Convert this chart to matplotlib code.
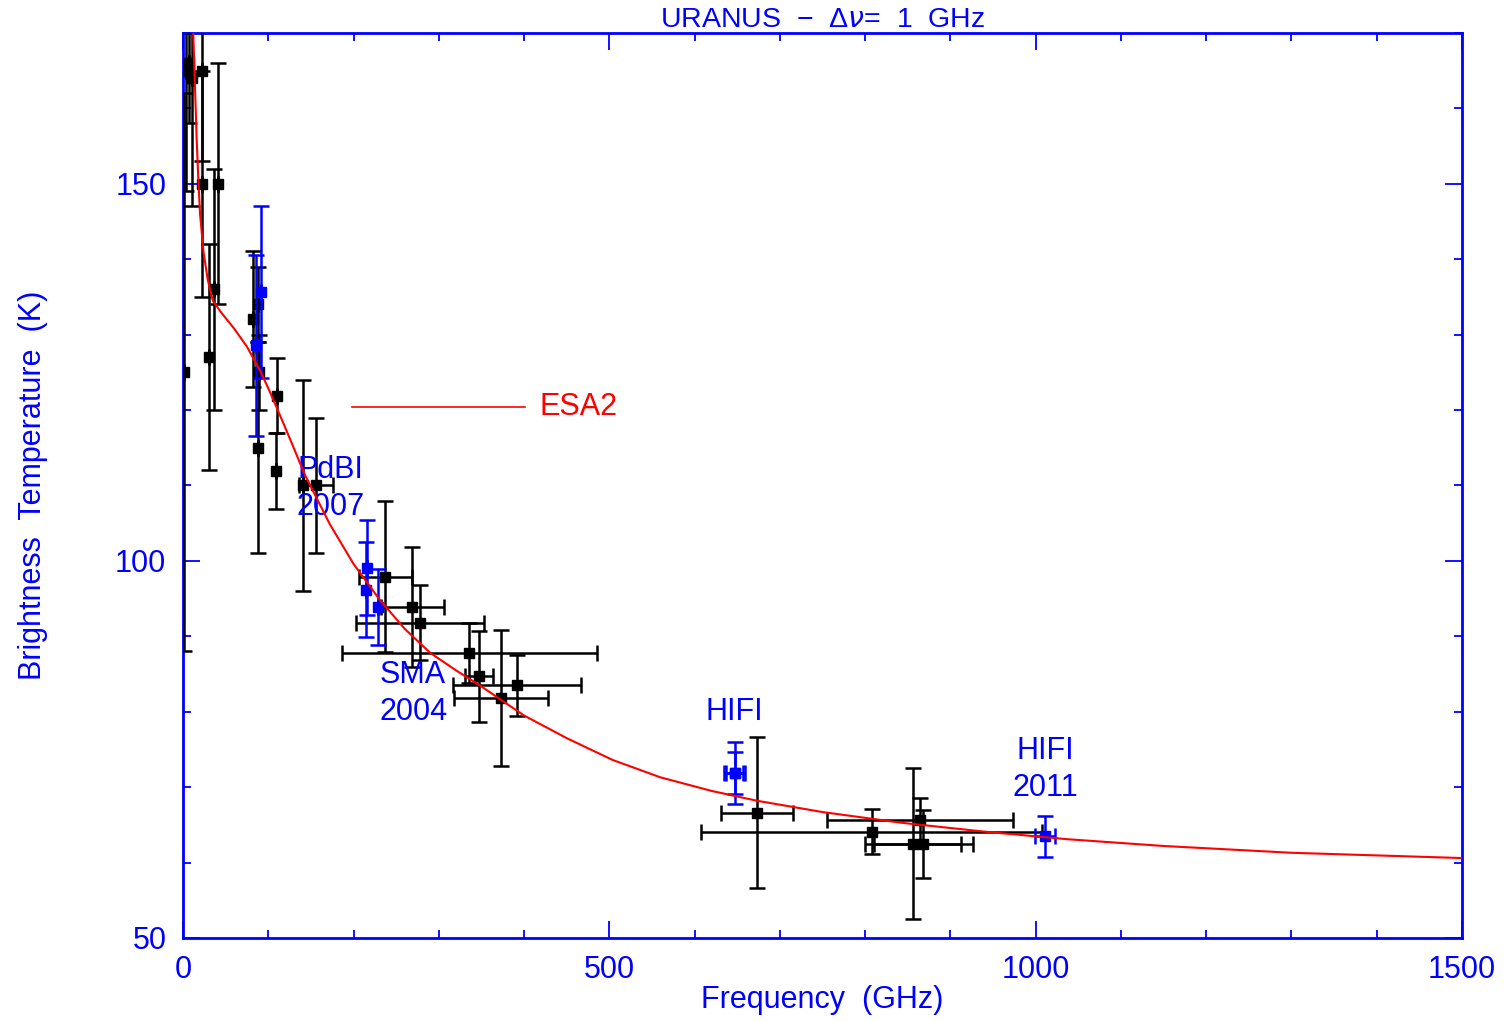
import numpy as np
import matplotlib
matplotlib.use('Agg')
import matplotlib.pyplot as plt
from matplotlib.ticker import MultipleLocator

plt.rcParams['font.family'] = ['Liberation Sans', 'DejaVu Sans']
plt.rcParams['mathtext.fontset'] = 'dejavusans'

# ESA2 model spectrum (GHz, K)
model_f = [12, 14, 16, 18, 20, 24, 29, 35, 45, 60, 75, 90, 100, 110, 125, 143, 172, 200,
           231, 260, 290, 320, 348, 400, 450, 504, 560, 620, 673, 750, 841, 940, 1037,
           1150, 1300, 1500]
model_T = [170, 163, 156, 150.5, 146, 141, 137.3, 134.5, 132.9, 130.8, 128.4, 125.3, 122.9,
           120.3, 116.3, 111.4, 104.9, 99.6, 94.8, 91, 87.8, 85.5, 83.5, 79.5, 76.5, 73.6,
           71.3, 69.5, 68.2, 66.7, 65.3, 64.1, 63.1, 62.2, 61.3, 60.6]

# literature measurements (black)
lit_f = [1.4, 3, 7, 10, 22, 22, 30, 36, 41, 82, 88, 89, 88, 110, 109, 141, 156,
         237, 269, 278, 336, 347, 373, 392, 673, 808, 856, 868, 864]
lit_T = [125, 165, 166, 164, 165, 150, 127, 136, 150, 132.1, 134, 125, 115, 121.9, 111.9,
         110, 110, 97.9, 93.9, 91.8, 87.8, 84.7, 81.8, 83.5, 66.6, 64.1, 62.5, 62.5, 65.6]
lit_dT = [37, 16, 8, 17, 12, 15, 15, 16, 16, 9, 5, 5, 14, 5, 5, 14, 9,
          10, 8, 5, 4, 6, 9, 4, 10, 3, 10, 4.5, 3]
lit_df = [0, 0, 0, 0, 0, 0, 0, 0, 0, 0, 0, 0, 0, 0, 0, 0, 20,
          31, 37, 75, 150, 16, 55, 75, 42, 200, 56, 58, 109]

# PdBI / SMA / HIFI measurements (blue)
new_f = [92, 86, 216, 215, 229, 647, 647, 1011]
new_T = [135.7, 128.6, 99.1, 96.2, 93.9, 71.9, 71.9, 63.5]
new_dT = [11.4, 12, 6.3, 6.3, 5, 4.1, 2.8, 2.7]
new_df = [0, 0, 0, 0, 0, 12, 10, 12]

labels = [('PdBI\n2007', 173, 109.6, 'center'),
          ('SMA\n2004', 230, 82.4, 'left'),
          ('HIFI', 647, 80, 'center'),
          ('HIFI\n2011', 1011, 72.4, 'center')]

blue = '#0000ff'
fs = 22

fig = plt.figure(figsize=(15.05, 10.21), dpi=100)
ax = fig.add_axes([0.1216, 0.0813, 0.8498, 0.8864])

ax.errorbar(lit_f, lit_T, yerr=lit_dT, xerr=lit_df, fmt='s', color='black',
            ms=7, elinewidth=1.8, capsize=6, capthick=1.8, zorder=3)
ax.errorbar(new_f, new_T, yerr=new_dT, xerr=new_df, fmt='s', color=blue,
            ms=6.5, elinewidth=1.8, capsize=6, capthick=1.8, zorder=4)
ax.plot(model_f, model_T, color='red', lw=1.5, zorder=5)

# model key
ax.plot([0.132, 0.2675], [0.5865, 0.5865], color='red', lw=1.2, transform=ax.transAxes)
ax.text(0.279, 0.5865, 'ESA2', color='red', fontsize=fs, va='center', ha='left',
        transform=ax.transAxes)

for txt, x, y, ha in labels:
    ax.text(x, y, txt, color=blue, fontsize=fs, ha=ha, va='center', linespacing=1.3)

ax.set_xlim(0, 1500)
ax.set_ylim(50, 170)
ax.xaxis.set_major_locator(MultipleLocator(500))
ax.xaxis.set_minor_locator(MultipleLocator(100))
ax.yaxis.set_major_locator(MultipleLocator(50))
ax.yaxis.set_minor_locator(MultipleLocator(10))
ax.tick_params(which='both', direction='in', top=True, right=True, colors=blue,
               labelcolor=blue, labelsize=fs, width=1.3)
ax.tick_params(which='major', length=12)
ax.tick_params(axis='x', which='major', pad=12)
ax.tick_params(axis='y', which='major', pad=12)
ax.tick_params(which='minor', length=6)
for sp in ax.spines.values():
    sp.set_color(blue)
    sp.set_linewidth(2)

ax.set_xlabel('Frequency  (GHz)', color=blue, fontsize=fs, labelpad=0)
ax.set_ylabel('Brightness  Temperature  (K)', color=blue, fontsize=fs, labelpad=48)
ax.set_title('URANUS  \u2212  \u0394$\\nu$=  1  GHz', color=blue, fontsize=20.5, pad=1)

fig.savefig('out.png', dpi=100)
